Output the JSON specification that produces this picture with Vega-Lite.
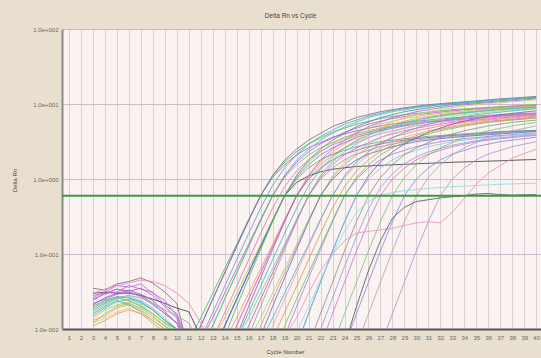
{
"$schema":"https://vega.github.io/schema/vega-lite/v6.json",
"width":479,"height":300,
"autosize":"none",
"padding":{"left":62,"top":29,"right":0,"bottom":29},
"background":"#e9dfce",
"title":{"text":"Delta Rn vs Cycle","fontSize":6.5,"fontWeight":"normal","color":"#444444","offset":7,"dx":-11},
"config":{"view":{"fill":"#fbf2f2","stroke":null},"font":"Liberation Sans"},
"layer":[
{"data":{"values":[
{"s":1,"c":3,"v":0.035},{"s":1,"c":4,"v":0.033},{"s":1,"c":5,"v":0.04},{"s":1,"c":6,"v":0.043},{"s":1,"c":7,"v":0.048},{"s":1,"c":8,"v":0.041},{"s":1,"c":9,"v":0.031},{"s":1,"c":10,"v":0.022},{"s":1,"c":11,"v":0.005},{"s":1,"c":12,"v":0.011},{"s":1,"c":13,"v":0.025},{"s":1,"c":14,"v":0.056},{"s":1,"c":15,"v":0.126},{"s":1,"c":16,"v":0.28},{"s":1,"c":17,"v":0.6},{"s":1,"c":18,"v":1.12},{"s":1,"c":19,"v":1.78},{"s":1,"c":20,"v":2.5},{"s":1,"c":21,"v":3.3},{"s":1,"c":23,"v":5.0},{"s":1,"c":25,"v":6.6},{"s":1,"c":27,"v":7.9},{"s":1,"c":29,"v":8.9},{"s":1,"c":31,"v":9.8},{"s":1,"c":33,"v":10.4},{"s":1,"c":35,"v":11.0},{"s":1,"c":37,"v":11.7},{"s":1,"c":39,"v":12.3},{"s":1,"c":40,"v":12.6},
{"s":2,"c":3,"v":0.018},{"s":2,"c":4,"v":0.022},{"s":2,"c":5,"v":0.026},{"s":2,"c":6,"v":0.024},{"s":2,"c":7,"v":0.02},{"s":2,"c":8,"v":0.016},{"s":2,"c":9,"v":0.012},{"s":2,"c":10,"v":0.01},{"s":2,"c":11,"v":0.007},{"s":2,"c":12,"v":0.014},{"s":2,"c":13,"v":0.03},{"s":2,"c":14,"v":0.064},{"s":2,"c":15,"v":0.135},{"s":2,"c":16,"v":0.29},{"s":2,"c":17,"v":0.6},{"s":2,"c":18,"v":1.1},{"s":2,"c":19,"v":1.68},{"s":2,"c":20,"v":2.3},{"s":2,"c":21,"v":2.95},{"s":2,"c":23,"v":4.2},{"s":2,"c":25,"v":5.4},{"s":2,"c":27,"v":6.4},{"s":2,"c":29,"v":7.2},{"s":2,"c":31,"v":7.8},{"s":2,"c":33,"v":8.4},{"s":2,"c":35,"v":8.8},{"s":2,"c":37,"v":9.2},{"s":2,"c":39,"v":9.6},{"s":2,"c":40,"v":9.8},
{"s":3,"c":3,"v":0.028},{"s":3,"c":4,"v":0.03},{"s":3,"c":5,"v":0.034},{"s":3,"c":6,"v":0.032},{"s":3,"c":7,"v":0.035},{"s":3,"c":8,"v":0.028},{"s":3,"c":9,"v":0.02},{"s":3,"c":10,"v":0.014},{"s":3,"c":11,"v":0.005},{"s":3,"c":12,"v":0.011},{"s":3,"c":13,"v":0.025},{"s":3,"c":14,"v":0.056},{"s":3,"c":15,"v":0.126},{"s":3,"c":16,"v":0.28},{"s":3,"c":17,"v":0.6},{"s":3,"c":18,"v":1.05},{"s":3,"c":19,"v":1.55},{"s":3,"c":20,"v":2.1},{"s":3,"c":21,"v":2.6},{"s":3,"c":23,"v":3.6},{"s":3,"c":25,"v":4.4},{"s":3,"c":27,"v":5.1},{"s":3,"c":29,"v":5.7},{"s":3,"c":31,"v":6.1},{"s":3,"c":33,"v":6.5},{"s":3,"c":35,"v":6.9},{"s":3,"c":37,"v":7.2},{"s":3,"c":39,"v":7.5},{"s":3,"c":40,"v":7.6},
{"s":4,"c":3,"v":0.015},{"s":4,"c":4,"v":0.019},{"s":4,"c":5,"v":0.023},{"s":4,"c":6,"v":0.025},{"s":4,"c":7,"v":0.022},{"s":4,"c":8,"v":0.018},{"s":4,"c":9,"v":0.013},{"s":4,"c":10,"v":0.01},{"s":4,"c":11,"v":0.006},{"s":4,"c":12,"v":0.005},{"s":4,"c":13,"v":0.011},{"s":4,"c":14,"v":0.025},{"s":4,"c":15,"v":0.056},{"s":4,"c":16,"v":0.126},{"s":4,"c":17,"v":0.28},{"s":4,"c":18,"v":0.6},{"s":4,"c":19,"v":1.12},{"s":4,"c":20,"v":1.78},{"s":4,"c":21,"v":2.5},{"s":4,"c":22,"v":3.3},{"s":4,"c":24,"v":5.0},{"s":4,"c":26,"v":6.6},{"s":4,"c":28,"v":7.9},{"s":4,"c":30,"v":8.9},{"s":4,"c":32,"v":9.8},{"s":4,"c":34,"v":10.4},{"s":4,"c":36,"v":11.0},{"s":4,"c":38,"v":11.7},{"s":4,"c":40,"v":12.3},
{"s":5,"c":3,"v":0.03},{"s":5,"c":4,"v":0.031},{"s":5,"c":5,"v":0.03},{"s":5,"c":6,"v":0.03},{"s":5,"c":7,"v":0.028},{"s":5,"c":8,"v":0.025},{"s":5,"c":9,"v":0.022},{"s":5,"c":10,"v":0.019},{"s":5,"c":11,"v":0.017},{"s":5,"c":12,"v":0.008},{"s":5,"c":13,"v":0.005},{"s":5,"c":14,"v":0.011},{"s":5,"c":15,"v":0.025},{"s":5,"c":16,"v":0.056},{"s":5,"c":17,"v":0.126},{"s":5,"c":18,"v":0.28},{"s":5,"c":19,"v":0.6},{"s":5,"c":20,"v":0.9},{"s":5,"c":21,"v":1.1},{"s":5,"c":22,"v":1.25},{"s":5,"c":23,"v":1.35},{"s":5,"c":25,"v":1.47},{"s":5,"c":27,"v":1.52},{"s":5,"c":29,"v":1.57},{"s":5,"c":31,"v":1.62},{"s":5,"c":33,"v":1.67},{"s":5,"c":35,"v":1.71},{"s":5,"c":37,"v":1.75},{"s":5,"c":39,"v":1.8},{"s":5,"c":40,"v":1.82},
{"s":6,"c":3,"v":0.024},{"s":6,"c":4,"v":0.03},{"s":6,"c":5,"v":0.031},{"s":6,"c":6,"v":0.038},{"s":6,"c":7,"v":0.034},{"s":6,"c":8,"v":0.031},{"s":6,"c":9,"v":0.021},{"s":6,"c":10,"v":0.016},{"s":6,"c":11,"v":0.006},{"s":6,"c":12,"v":0.007},{"s":6,"c":13,"v":0.014},{"s":6,"c":14,"v":0.03},{"s":6,"c":15,"v":0.064},{"s":6,"c":16,"v":0.135},{"s":6,"c":17,"v":0.29},{"s":6,"c":18,"v":0.6},{"s":6,"c":19,"v":1.1},{"s":6,"c":20,"v":1.68},{"s":6,"c":21,"v":2.3},{"s":6,"c":22,"v":2.95},{"s":6,"c":24,"v":4.2},{"s":6,"c":26,"v":5.4},{"s":6,"c":28,"v":6.4},{"s":6,"c":30,"v":7.2},{"s":6,"c":32,"v":7.8},{"s":6,"c":34,"v":8.4},{"s":6,"c":36,"v":8.8},{"s":6,"c":38,"v":9.2},{"s":6,"c":40,"v":9.6},
{"s":7,"c":3,"v":0.012},{"s":7,"c":4,"v":0.016},{"s":7,"c":5,"v":0.02},{"s":7,"c":6,"v":0.022},{"s":7,"c":7,"v":0.019},{"s":7,"c":8,"v":0.015},{"s":7,"c":9,"v":0.011},{"s":7,"c":10,"v":0.009},{"s":7,"c":11,"v":0.006},{"s":7,"c":12,"v":0.005},{"s":7,"c":13,"v":0.011},{"s":7,"c":14,"v":0.025},{"s":7,"c":15,"v":0.056},{"s":7,"c":16,"v":0.126},{"s":7,"c":17,"v":0.28},{"s":7,"c":18,"v":0.6},{"s":7,"c":19,"v":1.05},{"s":7,"c":20,"v":1.55},{"s":7,"c":21,"v":2.1},{"s":7,"c":22,"v":2.6},{"s":7,"c":24,"v":3.6},{"s":7,"c":26,"v":4.4},{"s":7,"c":28,"v":5.1},{"s":7,"c":30,"v":5.7},{"s":7,"c":32,"v":6.1},{"s":7,"c":34,"v":6.5},{"s":7,"c":36,"v":6.9},{"s":7,"c":38,"v":7.2},{"s":7,"c":40,"v":7.5},
{"s":8,"c":3,"v":0.02},{"s":8,"c":4,"v":0.024},{"s":8,"c":5,"v":0.027},{"s":8,"c":6,"v":0.026},{"s":8,"c":7,"v":0.023},{"s":8,"c":8,"v":0.018},{"s":8,"c":9,"v":0.013},{"s":8,"c":10,"v":0.01},{"s":8,"c":11,"v":0.006},{"s":8,"c":13,"v":0.005},{"s":8,"c":14,"v":0.011},{"s":8,"c":15,"v":0.025},{"s":8,"c":16,"v":0.056},{"s":8,"c":17,"v":0.126},{"s":8,"c":18,"v":0.28},{"s":8,"c":19,"v":0.6},{"s":8,"c":20,"v":1.12},{"s":8,"c":21,"v":1.78},{"s":8,"c":22,"v":2.5},{"s":8,"c":23,"v":3.3},{"s":8,"c":25,"v":5.0},{"s":8,"c":27,"v":6.6},{"s":8,"c":29,"v":7.9},{"s":8,"c":31,"v":8.9},{"s":8,"c":33,"v":9.8},{"s":8,"c":35,"v":10.4},{"s":8,"c":37,"v":11.0},{"s":8,"c":39,"v":11.7},{"s":8,"c":40,"v":12.0},
{"s":9,"c":3,"v":0.014},{"s":9,"c":4,"v":0.018},{"s":9,"c":5,"v":0.021},{"s":9,"c":6,"v":0.023},{"s":9,"c":7,"v":0.021},{"s":9,"c":8,"v":0.016},{"s":9,"c":9,"v":0.012},{"s":9,"c":10,"v":0.009},{"s":9,"c":11,"v":0.006},{"s":9,"c":13,"v":0.007},{"s":9,"c":14,"v":0.014},{"s":9,"c":15,"v":0.03},{"s":9,"c":16,"v":0.064},{"s":9,"c":17,"v":0.135},{"s":9,"c":18,"v":0.29},{"s":9,"c":19,"v":0.6},{"s":9,"c":20,"v":1.1},{"s":9,"c":21,"v":1.68},{"s":9,"c":22,"v":2.3},{"s":9,"c":23,"v":2.95},{"s":9,"c":25,"v":4.2},{"s":9,"c":27,"v":5.4},{"s":9,"c":29,"v":6.4},{"s":9,"c":31,"v":7.2},{"s":9,"c":33,"v":7.8},{"s":9,"c":35,"v":8.4},{"s":9,"c":37,"v":8.8},{"s":9,"c":39,"v":9.2},{"s":9,"c":40,"v":9.4},
{"s":10,"c":3,"v":0.022},{"s":10,"c":4,"v":0.025},{"s":10,"c":5,"v":0.029},{"s":10,"c":6,"v":0.031},{"s":10,"c":7,"v":0.028},{"s":10,"c":8,"v":0.022},{"s":10,"c":9,"v":0.016},{"s":10,"c":10,"v":0.012},{"s":10,"c":11,"v":0.006},{"s":10,"c":13,"v":0.005},{"s":10,"c":14,"v":0.011},{"s":10,"c":15,"v":0.025},{"s":10,"c":16,"v":0.056},{"s":10,"c":17,"v":0.126},{"s":10,"c":18,"v":0.28},{"s":10,"c":19,"v":0.6},{"s":10,"c":20,"v":1.05},{"s":10,"c":21,"v":1.55},{"s":10,"c":22,"v":2.1},{"s":10,"c":23,"v":2.6},{"s":10,"c":25,"v":3.6},{"s":10,"c":27,"v":4.4},{"s":10,"c":29,"v":5.1},{"s":10,"c":31,"v":5.7},{"s":10,"c":33,"v":6.1},{"s":10,"c":35,"v":6.5},{"s":10,"c":37,"v":6.9},{"s":10,"c":39,"v":7.2},{"s":10,"c":40,"v":7.3},
{"s":11,"c":3,"v":0.026},{"s":11,"c":4,"v":0.031},{"s":11,"c":5,"v":0.038},{"s":11,"c":6,"v":0.036},{"s":11,"c":7,"v":0.04},{"s":11,"c":8,"v":0.03},{"s":11,"c":9,"v":0.024},{"s":11,"c":10,"v":0.015},{"s":11,"c":11,"v":0.006},{"s":11,"c":14,"v":0.005},{"s":11,"c":15,"v":0.011},{"s":11,"c":16,"v":0.025},{"s":11,"c":17,"v":0.056},{"s":11,"c":18,"v":0.126},{"s":11,"c":19,"v":0.28},{"s":11,"c":20,"v":0.6},{"s":11,"c":21,"v":1.12},{"s":11,"c":22,"v":1.78},{"s":11,"c":23,"v":2.5},{"s":11,"c":24,"v":3.3},{"s":11,"c":26,"v":5.0},{"s":11,"c":28,"v":6.6},{"s":11,"c":30,"v":7.9},{"s":11,"c":32,"v":8.9},{"s":11,"c":34,"v":9.8},{"s":11,"c":36,"v":10.4},{"s":11,"c":38,"v":11.0},{"s":11,"c":40,"v":11.7},
{"s":12,"c":3,"v":0.013},{"s":12,"c":4,"v":0.015},{"s":12,"c":5,"v":0.019},{"s":12,"c":6,"v":0.021},{"s":12,"c":7,"v":0.018},{"s":12,"c":8,"v":0.014},{"s":12,"c":9,"v":0.011},{"s":12,"c":10,"v":0.008},{"s":12,"c":11,"v":0.006},{"s":12,"c":14,"v":0.007},{"s":12,"c":15,"v":0.014},{"s":12,"c":16,"v":0.03},{"s":12,"c":17,"v":0.064},{"s":12,"c":18,"v":0.135},{"s":12,"c":19,"v":0.29},{"s":12,"c":20,"v":0.6},{"s":12,"c":21,"v":1.1},{"s":12,"c":22,"v":1.68},{"s":12,"c":23,"v":2.3},{"s":12,"c":24,"v":2.95},{"s":12,"c":26,"v":4.2},{"s":12,"c":28,"v":5.4},{"s":12,"c":30,"v":6.4},{"s":12,"c":32,"v":7.2},{"s":12,"c":34,"v":7.8},{"s":12,"c":36,"v":8.4},{"s":12,"c":38,"v":8.8},{"s":12,"c":40,"v":9.2},
{"s":13,"c":3,"v":0.03},{"s":13,"c":4,"v":0.034},{"s":13,"c":5,"v":0.038},{"s":13,"c":6,"v":0.041},{"s":13,"c":7,"v":0.045},{"s":13,"c":8,"v":0.043},{"s":13,"c":9,"v":0.038},{"s":13,"c":10,"v":0.03},{"s":13,"c":11,"v":0.022},{"s":13,"c":12,"v":0.012},{"s":13,"c":13,"v":0.006},{"s":13,"c":14,"v":0.005},{"s":13,"c":15,"v":0.011},{"s":13,"c":16,"v":0.025},{"s":13,"c":17,"v":0.056},{"s":13,"c":18,"v":0.126},{"s":13,"c":19,"v":0.28},{"s":13,"c":20,"v":0.6},{"s":13,"c":21,"v":1.05},{"s":13,"c":22,"v":1.55},{"s":13,"c":23,"v":2.1},{"s":13,"c":24,"v":2.6},{"s":13,"c":26,"v":3.6},{"s":13,"c":28,"v":4.4},{"s":13,"c":30,"v":5.1},{"s":13,"c":32,"v":5.7},{"s":13,"c":34,"v":6.1},{"s":13,"c":36,"v":6.5},{"s":13,"c":38,"v":6.9},{"s":13,"c":40,"v":7.2},
{"s":14,"c":3,"v":0.016},{"s":14,"c":4,"v":0.02},{"s":14,"c":5,"v":0.024},{"s":14,"c":6,"v":0.021},{"s":14,"c":7,"v":0.017},{"s":14,"c":8,"v":0.013},{"s":14,"c":9,"v":0.01},{"s":14,"c":10,"v":0.008},{"s":14,"c":11,"v":0.006},{"s":14,"c":13,"v":0.003},{"s":14,"c":14,"v":0.008},{"s":14,"c":15,"v":0.02},{"s":14,"c":16,"v":0.048},{"s":14,"c":17,"v":0.115},{"s":14,"c":18,"v":0.27},{"s":14,"c":19,"v":0.6},{"s":14,"c":20,"v":1.0},{"s":14,"c":21,"v":1.4},{"s":14,"c":22,"v":1.8},{"s":14,"c":23,"v":2.15},{"s":14,"c":25,"v":2.7},{"s":14,"c":27,"v":3.15},{"s":14,"c":29,"v":3.45},{"s":14,"c":31,"v":3.7},{"s":14,"c":33,"v":3.9},{"s":14,"c":35,"v":4.1},{"s":14,"c":37,"v":4.3},{"s":14,"c":39,"v":4.4},{"s":14,"c":40,"v":4.45},
{"s":15,"c":3,"v":0.021},{"s":15,"c":4,"v":0.026},{"s":15,"c":5,"v":0.03},{"s":15,"c":6,"v":0.033},{"s":15,"c":7,"v":0.029},{"s":15,"c":8,"v":0.024},{"s":15,"c":9,"v":0.017},{"s":15,"c":10,"v":0.012},{"s":15,"c":11,"v":0.006},{"s":15,"c":14,"v":0.003},{"s":15,"c":15,"v":0.008},{"s":15,"c":16,"v":0.02},{"s":15,"c":17,"v":0.048},{"s":15,"c":18,"v":0.115},{"s":15,"c":19,"v":0.27},{"s":15,"c":20,"v":0.6},{"s":15,"c":21,"v":1.0},{"s":15,"c":22,"v":1.4},{"s":15,"c":23,"v":1.8},{"s":15,"c":24,"v":2.15},{"s":15,"c":26,"v":2.7},{"s":15,"c":28,"v":3.15},{"s":15,"c":30,"v":3.45},{"s":15,"c":32,"v":3.7},{"s":15,"c":34,"v":3.9},{"s":15,"c":36,"v":4.1},{"s":15,"c":38,"v":4.3},{"s":15,"c":40,"v":4.4},
{"s":16,"c":3,"v":0.012},{"s":16,"c":4,"v":0.014},{"s":16,"c":5,"v":0.017},{"s":16,"c":6,"v":0.019},{"s":16,"c":7,"v":0.016},{"s":16,"c":8,"v":0.013},{"s":16,"c":9,"v":0.01},{"s":16,"c":10,"v":0.008},{"s":16,"c":11,"v":0.006},{"s":16,"c":15,"v":0.005},{"s":16,"c":16,"v":0.011},{"s":16,"c":17,"v":0.025},{"s":16,"c":18,"v":0.056},{"s":16,"c":19,"v":0.126},{"s":16,"c":20,"v":0.28},{"s":16,"c":21,"v":0.6},{"s":16,"c":22,"v":1.12},{"s":16,"c":23,"v":1.78},{"s":16,"c":24,"v":2.5},{"s":16,"c":25,"v":3.3},{"s":16,"c":27,"v":5.0},{"s":16,"c":29,"v":6.6},{"s":16,"c":31,"v":7.9},{"s":16,"c":33,"v":8.9},{"s":16,"c":35,"v":9.8},{"s":16,"c":37,"v":10.4},{"s":16,"c":39,"v":11.0},{"s":16,"c":40,"v":11.4},
{"s":17,"c":3,"v":0.017},{"s":17,"c":4,"v":0.021},{"s":17,"c":5,"v":0.025},{"s":17,"c":6,"v":0.027},{"s":17,"c":7,"v":0.024},{"s":17,"c":8,"v":0.019},{"s":17,"c":9,"v":0.014},{"s":17,"c":10,"v":0.01},{"s":17,"c":11,"v":0.006},{"s":17,"c":15,"v":0.007},{"s":17,"c":16,"v":0.014},{"s":17,"c":17,"v":0.03},{"s":17,"c":18,"v":0.064},{"s":17,"c":19,"v":0.135},{"s":17,"c":20,"v":0.29},{"s":17,"c":21,"v":0.6},{"s":17,"c":22,"v":1.1},{"s":17,"c":23,"v":1.68},{"s":17,"c":24,"v":2.3},{"s":17,"c":25,"v":2.95},{"s":17,"c":27,"v":4.2},{"s":17,"c":29,"v":5.4},{"s":17,"c":31,"v":6.4},{"s":17,"c":33,"v":7.2},{"s":17,"c":35,"v":7.8},{"s":17,"c":37,"v":8.4},{"s":17,"c":39,"v":8.8},{"s":17,"c":40,"v":9.0},
{"s":18,"c":3,"v":0.025},{"s":18,"c":4,"v":0.029},{"s":18,"c":5,"v":0.034},{"s":18,"c":6,"v":0.031},{"s":18,"c":7,"v":0.027},{"s":18,"c":8,"v":0.021},{"s":18,"c":9,"v":0.016},{"s":18,"c":10,"v":0.012},{"s":18,"c":11,"v":0.006},{"s":18,"c":15,"v":0.005},{"s":18,"c":16,"v":0.011},{"s":18,"c":17,"v":0.025},{"s":18,"c":18,"v":0.056},{"s":18,"c":19,"v":0.126},{"s":18,"c":20,"v":0.28},{"s":18,"c":21,"v":0.6},{"s":18,"c":22,"v":1.05},{"s":18,"c":23,"v":1.55},{"s":18,"c":24,"v":2.1},{"s":18,"c":25,"v":2.6},{"s":18,"c":27,"v":3.6},{"s":18,"c":29,"v":4.4},{"s":18,"c":31,"v":5.1},{"s":18,"c":33,"v":5.7},{"s":18,"c":35,"v":6.1},{"s":18,"c":37,"v":6.5},{"s":18,"c":39,"v":6.9},{"s":18,"c":40,"v":7.0},
{"s":19,"c":3,"v":0.019},{"s":19,"c":4,"v":0.023},{"s":19,"c":5,"v":0.026},{"s":19,"c":6,"v":0.028},{"s":19,"c":7,"v":0.026},{"s":19,"c":8,"v":0.022},{"s":19,"c":9,"v":0.018},{"s":19,"c":10,"v":0.015},{"s":19,"c":11,"v":0.012},{"s":19,"c":12,"v":0.006},{"s":19,"c":15,"v":0.003},{"s":19,"c":16,"v":0.008},{"s":19,"c":17,"v":0.02},{"s":19,"c":18,"v":0.048},{"s":19,"c":19,"v":0.115},{"s":19,"c":20,"v":0.27},{"s":19,"c":21,"v":0.6},{"s":19,"c":22,"v":1.0},{"s":19,"c":23,"v":1.4},{"s":19,"c":24,"v":1.8},{"s":19,"c":25,"v":2.15},{"s":19,"c":27,"v":2.7},{"s":19,"c":29,"v":3.15},{"s":19,"c":31,"v":3.45},{"s":19,"c":33,"v":3.7},{"s":19,"c":35,"v":3.9},{"s":19,"c":37,"v":4.1},{"s":19,"c":39,"v":4.3},{"s":19,"c":40,"v":4.35},
{"s":20,"c":3,"v":0.011},{"s":20,"c":4,"v":0.013},{"s":20,"c":5,"v":0.016},{"s":20,"c":6,"v":0.018},{"s":20,"c":7,"v":0.016},{"s":20,"c":8,"v":0.012},{"s":20,"c":9,"v":0.009},{"s":20,"c":10,"v":0.007},{"s":20,"c":16,"v":0.005},{"s":20,"c":17,"v":0.011},{"s":20,"c":18,"v":0.025},{"s":20,"c":19,"v":0.056},{"s":20,"c":20,"v":0.126},{"s":20,"c":21,"v":0.28},{"s":20,"c":22,"v":0.6},{"s":20,"c":23,"v":1.05},{"s":20,"c":24,"v":1.55},{"s":20,"c":25,"v":2.1},{"s":20,"c":26,"v":2.6},{"s":20,"c":28,"v":3.6},{"s":20,"c":30,"v":4.4},{"s":20,"c":32,"v":5.1},{"s":20,"c":34,"v":5.7},{"s":20,"c":36,"v":6.1},{"s":20,"c":38,"v":6.5},{"s":20,"c":40,"v":6.9},
{"s":21,"c":16,"v":0.007},{"s":21,"c":17,"v":0.014},{"s":21,"c":18,"v":0.03},{"s":21,"c":19,"v":0.064},{"s":21,"c":20,"v":0.135},{"s":21,"c":21,"v":0.29},{"s":21,"c":22,"v":0.6},{"s":21,"c":23,"v":1.1},{"s":21,"c":24,"v":1.68},{"s":21,"c":25,"v":2.3},{"s":21,"c":26,"v":2.95},{"s":21,"c":28,"v":4.2},{"s":21,"c":30,"v":5.4},{"s":21,"c":32,"v":6.4},{"s":21,"c":34,"v":7.2},{"s":21,"c":36,"v":7.8},{"s":21,"c":38,"v":8.4},{"s":21,"c":40,"v":8.8},
{"s":22,"c":16,"v":0.003},{"s":22,"c":17,"v":0.008},{"s":22,"c":18,"v":0.02},{"s":22,"c":19,"v":0.048},{"s":22,"c":20,"v":0.115},{"s":22,"c":21,"v":0.27},{"s":22,"c":22,"v":0.6},{"s":22,"c":23,"v":1.0},{"s":22,"c":24,"v":1.4},{"s":22,"c":25,"v":1.8},{"s":22,"c":26,"v":2.15},{"s":22,"c":28,"v":2.7},{"s":22,"c":30,"v":3.15},{"s":22,"c":32,"v":3.45},{"s":22,"c":34,"v":3.7},{"s":22,"c":36,"v":3.9},{"s":22,"c":38,"v":4.1},{"s":22,"c":40,"v":4.3},
{"s":23,"c":17,"v":0.005},{"s":23,"c":18,"v":0.011},{"s":23,"c":19,"v":0.025},{"s":23,"c":20,"v":0.056},{"s":23,"c":21,"v":0.126},{"s":23,"c":22,"v":0.28},{"s":23,"c":23,"v":0.6},{"s":23,"c":24,"v":1.05},{"s":23,"c":25,"v":1.55},{"s":23,"c":26,"v":2.1},{"s":23,"c":27,"v":2.6},{"s":23,"c":29,"v":3.6},{"s":23,"c":31,"v":4.4},{"s":23,"c":33,"v":5.1},{"s":23,"c":35,"v":5.7},{"s":23,"c":37,"v":6.1},{"s":23,"c":39,"v":6.5},{"s":23,"c":40,"v":6.7},
{"s":24,"c":17,"v":0.007},{"s":24,"c":18,"v":0.014},{"s":24,"c":19,"v":0.03},{"s":24,"c":20,"v":0.064},{"s":24,"c":21,"v":0.135},{"s":24,"c":22,"v":0.29},{"s":24,"c":23,"v":0.6},{"s":24,"c":24,"v":1.1},{"s":24,"c":25,"v":1.68},{"s":24,"c":26,"v":2.3},{"s":24,"c":27,"v":2.95},{"s":24,"c":29,"v":4.2},{"s":24,"c":31,"v":5.4},{"s":24,"c":33,"v":6.4},{"s":24,"c":35,"v":7.2},{"s":24,"c":37,"v":7.8},{"s":24,"c":39,"v":8.4},{"s":24,"c":40,"v":8.6},
{"s":25,"c":18,"v":0.003},{"s":25,"c":19,"v":0.008},{"s":25,"c":20,"v":0.02},{"s":25,"c":21,"v":0.048},{"s":25,"c":22,"v":0.115},{"s":25,"c":23,"v":0.27},{"s":25,"c":24,"v":0.6},{"s":25,"c":25,"v":1.0},{"s":25,"c":26,"v":1.4},{"s":25,"c":27,"v":1.8},{"s":25,"c":28,"v":2.15},{"s":25,"c":30,"v":2.7},{"s":25,"c":32,"v":3.15},{"s":25,"c":34,"v":3.45},{"s":25,"c":36,"v":3.7},{"s":25,"c":38,"v":3.9},{"s":25,"c":40,"v":4.1},
{"s":26,"c":18,"v":0.005},{"s":26,"c":19,"v":0.011},{"s":26,"c":20,"v":0.025},{"s":26,"c":21,"v":0.056},{"s":26,"c":22,"v":0.126},{"s":26,"c":23,"v":0.28},{"s":26,"c":24,"v":0.6},{"s":26,"c":25,"v":1.05},{"s":26,"c":26,"v":1.55},{"s":26,"c":27,"v":2.1},{"s":26,"c":28,"v":2.6},{"s":26,"c":30,"v":3.6},{"s":26,"c":32,"v":4.4},{"s":26,"c":34,"v":5.1},{"s":26,"c":36,"v":5.7},{"s":26,"c":38,"v":6.1},{"s":26,"c":40,"v":6.5},
{"s":27,"c":20,"v":0.006},{"s":27,"c":21,"v":0.016},{"s":27,"c":22,"v":0.042},{"s":27,"c":23,"v":0.11},{"s":27,"c":24,"v":0.27},{"s":27,"c":25,"v":0.6},{"s":27,"c":26,"v":1.1},{"s":27,"c":27,"v":1.68},{"s":27,"c":28,"v":2.3},{"s":27,"c":29,"v":2.95},{"s":27,"c":31,"v":4.2},{"s":27,"c":33,"v":5.4},{"s":27,"c":35,"v":6.4},{"s":27,"c":37,"v":7.2},{"s":27,"c":39,"v":7.8},{"s":27,"c":40,"v":8.1},
{"s":28,"c":20,"v":0.006},{"s":28,"c":21,"v":0.016},{"s":28,"c":22,"v":0.042},{"s":28,"c":23,"v":0.11},{"s":28,"c":24,"v":0.27},{"s":28,"c":25,"v":0.6},{"s":28,"c":26,"v":1.0},{"s":28,"c":27,"v":1.4},{"s":28,"c":28,"v":1.8},{"s":28,"c":29,"v":2.15},{"s":28,"c":31,"v":2.7},{"s":28,"c":33,"v":3.15},{"s":28,"c":35,"v":3.45},{"s":28,"c":37,"v":3.7},{"s":28,"c":39,"v":3.9},{"s":28,"c":40,"v":4.0},
{"s":29,"c":21,"v":0.006},{"s":29,"c":22,"v":0.016},{"s":29,"c":23,"v":0.042},{"s":29,"c":24,"v":0.11},{"s":29,"c":25,"v":0.27},{"s":29,"c":26,"v":0.6},{"s":29,"c":27,"v":1.05},{"s":29,"c":28,"v":1.55},{"s":29,"c":29,"v":2.1},{"s":29,"c":30,"v":2.6},{"s":29,"c":32,"v":3.6},{"s":29,"c":34,"v":4.4},{"s":29,"c":36,"v":5.1},{"s":29,"c":38,"v":5.7},{"s":29,"c":40,"v":6.1},
{"s":30,"c":22,"v":0.006},{"s":30,"c":23,"v":0.016},{"s":30,"c":24,"v":0.042},{"s":30,"c":25,"v":0.11},{"s":30,"c":26,"v":0.27},{"s":30,"c":27,"v":0.6},{"s":30,"c":28,"v":1.0},{"s":30,"c":29,"v":1.4},{"s":30,"c":30,"v":1.8},{"s":30,"c":31,"v":2.15},{"s":30,"c":33,"v":2.7},{"s":30,"c":35,"v":3.15},{"s":30,"c":37,"v":3.45},{"s":30,"c":39,"v":3.7},{"s":30,"c":40,"v":3.8},
{"s":31,"c":23,"v":0.006},{"s":31,"c":24,"v":0.016},{"s":31,"c":25,"v":0.042},{"s":31,"c":26,"v":0.11},{"s":31,"c":27,"v":0.27},{"s":31,"c":28,"v":0.6},{"s":31,"c":29,"v":1.05},{"s":31,"c":30,"v":1.55},{"s":31,"c":31,"v":2.1},{"s":31,"c":32,"v":2.6},{"s":31,"c":34,"v":3.6},{"s":31,"c":36,"v":4.4},{"s":31,"c":38,"v":5.1},{"s":31,"c":40,"v":5.7},
{"s":32,"c":24,"v":0.006},{"s":32,"c":25,"v":0.016},{"s":32,"c":26,"v":0.042},{"s":32,"c":27,"v":0.11},{"s":32,"c":28,"v":0.27},{"s":32,"c":29,"v":0.6},{"s":32,"c":30,"v":1.0},{"s":32,"c":31,"v":1.4},{"s":32,"c":32,"v":1.8},{"s":32,"c":33,"v":2.15},{"s":32,"c":35,"v":2.7},{"s":32,"c":37,"v":3.15},{"s":32,"c":39,"v":3.45},{"s":32,"c":40,"v":3.6},
{"s":33,"c":25,"v":0.006},{"s":33,"c":26,"v":0.016},{"s":33,"c":27,"v":0.042},{"s":33,"c":28,"v":0.11},{"s":33,"c":29,"v":0.27},{"s":33,"c":30,"v":0.6},{"s":33,"c":31,"v":1.05},{"s":33,"c":32,"v":1.55},{"s":33,"c":33,"v":2.1},{"s":33,"c":34,"v":2.6},{"s":33,"c":36,"v":3.6},{"s":33,"c":38,"v":4.4},{"s":33,"c":40,"v":5.1},
{"s":34,"c":27,"v":0.006},{"s":34,"c":28,"v":0.016},{"s":34,"c":29,"v":0.042},{"s":34,"c":30,"v":0.11},{"s":34,"c":31,"v":0.27},{"s":34,"c":32,"v":0.6},{"s":34,"c":33,"v":1.0},{"s":34,"c":34,"v":1.4},{"s":34,"c":35,"v":1.8},{"s":34,"c":36,"v":2.15},{"s":34,"c":38,"v":2.7},{"s":34,"c":40,"v":3.15},
{"s":35,"c":19,"v":0.004},{"s":35,"c":20,"v":0.009},{"s":35,"c":21,"v":0.02},{"s":35,"c":22,"v":0.045},{"s":35,"c":23,"v":0.1},{"s":35,"c":24,"v":0.2},{"s":35,"c":25,"v":0.36},{"s":35,"c":26,"v":0.5},{"s":35,"c":27,"v":0.6},{"s":35,"c":28,"v":0.66},{"s":35,"c":29,"v":0.7},{"s":35,"c":31,"v":0.75},{"s":35,"c":33,"v":0.79},{"s":35,"c":35,"v":0.82},{"s":35,"c":37,"v":0.85},{"s":35,"c":39,"v":0.87},{"s":35,"c":40,"v":0.88},
{"s":36,"c":19,"v":0.008},{"s":36,"c":20,"v":0.014},{"s":36,"c":21,"v":0.03},{"s":36,"c":22,"v":0.06},{"s":36,"c":23,"v":0.1},{"s":36,"c":24,"v":0.15},{"s":36,"c":25,"v":0.19},{"s":36,"c":26,"v":0.2},{"s":36,"c":27,"v":0.21},{"s":36,"c":28,"v":0.22},{"s":36,"c":29,"v":0.24},{"s":36,"c":30,"v":0.26},{"s":36,"c":31,"v":0.27},{"s":36,"c":32,"v":0.26},{"s":36,"c":33,"v":0.36},{"s":36,"c":34,"v":0.55},{"s":36,"c":35,"v":0.85},{"s":36,"c":36,"v":1.2},{"s":36,"c":38,"v":1.9},{"s":36,"c":40,"v":2.5},
{"s":37,"c":24,"v":0.006},{"s":37,"c":25,"v":0.02},{"s":37,"c":26,"v":0.06},{"s":37,"c":27,"v":0.15},{"s":37,"c":28,"v":0.3},{"s":37,"c":29,"v":0.42},{"s":37,"c":30,"v":0.5},{"s":37,"c":32,"v":0.56},{"s":37,"c":34,"v":0.6},{"s":37,"c":35,"v":0.63},{"s":37,"c":36,"v":0.64},{"s":37,"c":37,"v":0.62},{"s":37,"c":38,"v":0.61},{"s":37,"c":40,"v":0.62},
{"s":38,"c":12,"v":0.0074},{"s":38,"c":13,"v":0.0166},{"s":38,"c":14,"v":0.037},{"s":38,"c":15,"v":0.084},{"s":38,"c":16,"v":0.188},{"s":38,"c":17,"v":0.41},{"s":38,"c":18,"v":0.82},{"s":38,"c":19,"v":1.41},{"s":38,"c":20,"v":2.1},{"s":38,"c":21,"v":2.9},{"s":38,"c":22,"v":3.7},{"s":38,"c":24,"v":5.4},{"s":38,"c":26,"v":6.9},{"s":38,"c":28,"v":8.2},{"s":38,"c":30,"v":9.1},{"s":38,"c":32,"v":9.9},{"s":38,"c":34,"v":10.5},{"s":38,"c":36,"v":11.2},{"s":38,"c":38,"v":11.8},{"s":38,"c":40,"v":12.4},
{"s":39,"c":13,"v":0.0074},{"s":39,"c":14,"v":0.0166},{"s":39,"c":15,"v":0.037},{"s":39,"c":16,"v":0.084},{"s":39,"c":17,"v":0.188},{"s":39,"c":18,"v":0.41},{"s":39,"c":19,"v":0.79},{"s":39,"c":20,"v":1.28},{"s":39,"c":21,"v":1.8},{"s":39,"c":22,"v":2.34},{"s":39,"c":23,"v":2.85},{"s":39,"c":25,"v":3.8},{"s":39,"c":27,"v":4.6},{"s":39,"c":29,"v":5.25},{"s":39,"c":31,"v":5.8},{"s":39,"c":33,"v":6.2},{"s":39,"c":35,"v":6.6},{"s":39,"c":37,"v":6.95},{"s":39,"c":39,"v":7.25},{"s":39,"c":40,"v":7.4},
{"s":40,"c":15,"v":0.0074},{"s":40,"c":16,"v":0.0166},{"s":40,"c":17,"v":0.037},{"s":40,"c":18,"v":0.084},{"s":40,"c":19,"v":0.188},{"s":40,"c":20,"v":0.41},{"s":40,"c":21,"v":0.81},{"s":40,"c":22,"v":1.36},{"s":40,"c":23,"v":1.97},{"s":40,"c":24,"v":2.6},{"s":40,"c":25,"v":3.25},{"s":40,"c":27,"v":4.5},{"s":40,"c":29,"v":5.65},{"s":40,"c":31,"v":6.6},{"s":40,"c":33,"v":7.35},{"s":40,"c":35,"v":7.95},{"s":40,"c":37,"v":8.5},{"s":40,"c":39,"v":8.9},{"s":40,"c":40,"v":9.1},
{"s":41,"c":18,"v":0.0074},{"s":41,"c":19,"v":0.0166},{"s":41,"c":20,"v":0.037},{"s":41,"c":21,"v":0.084},{"s":41,"c":22,"v":0.188},{"s":41,"c":23,"v":0.41},{"s":41,"c":24,"v":0.79},{"s":41,"c":25,"v":1.28},{"s":41,"c":26,"v":1.8},{"s":41,"c":27,"v":2.34},{"s":41,"c":28,"v":2.85},{"s":41,"c":30,"v":3.8},{"s":41,"c":32,"v":4.6},{"s":41,"c":34,"v":5.25},{"s":41,"c":36,"v":5.8},{"s":41,"c":38,"v":6.2},{"s":41,"c":40,"v":6.6},
{"s":42,"c":21,"v":0.004},{"s":42,"c":22,"v":0.0098},{"s":42,"c":23,"v":0.026},{"s":42,"c":24,"v":0.068},{"s":42,"c":25,"v":0.17},{"s":42,"c":26,"v":0.4},{"s":42,"c":27,"v":0.77},{"s":42,"c":28,"v":1.18},{"s":42,"c":29,"v":1.6},{"s":42,"c":30,"v":1.97},{"s":42,"c":31,"v":2.3},{"s":42,"c":33,"v":2.83},{"s":42,"c":35,"v":3.23},{"s":42,"c":37,"v":3.53},{"s":42,"c":39,"v":3.8},{"s":42,"c":40,"v":3.85}
]},
"mark":{"type":"line","strokeWidth":1,"opacity":0.8,"clip":true},
"encoding":{
"x":{"field":"c","type":"quantitative","scale":{"domain":[0.42,40.4],"nice":false,"zero":false},
"axis":{"values":[1,2,3,4,5,6,7,8,9,10,11,12,13,14,15,16,17,18,19,20,21,22,23,24,25,26,27,28,29,30,31,32,33,34,35,36,37,38,39,40],"title":"Cycle Number","grid":true,"gridColor":"#dccfd2","gridWidth":1,"ticks":false,"tickSize":0,"labelPadding":5,"labelFontSize":6,"labelColor":"#666666","labelFlush":false,"labelOverlap":false,"titleFontSize":6,"titleFontWeight":"normal","titleColor":"#444444","titleX":223,"titlePadding":8,"domainColor":"#555555","domainWidth":2}},
"y":{"field":"v","type":"quantitative","scale":{"type":"log","domain":[0.01,100],"nice":false},
"axis":{"values":[0.01,0.1,1,10,100],"labelExpr":"datum.value >= 99 ? '1.0e+002' : datum.value >= 9 ? '1.0e+001' : datum.value >= 0.9 ? '1.0e+000' : datum.value >= 0.09 ? '1.0e-001' : '1.0e-002'","title":"Delta Rn","grid":true,"gridColor":"#cbbccb","ticks":false,"tickSize":0,"labelPadding":4,"labelFontSize":6,"labelColor":"#666666","titleFontSize":6,"titleFontWeight":"normal","titleColor":"#444444","titleX":-45,"titleY":151,"domainColor":"#8a8a8a","domainWidth":2}},
"color":{"field":"s","type":"nominal","legend":null,"scale":{"domain":[1,2,3,4,5,6,7,8,9,10,11,12,13,14,15,16,17,18,19,20,21,22,23,24,25,26,27,28,29,30,31,32,33,34,35,36,37,38,39,40,41,42],"range":["#6e6e6e","#3dbb5a","#9a5fd0","#40c0d0","#3a3a3a","#d04ed0","#5ccc5c","#2f9a9a","#b8c840","#6a78e0","#a86ae0","#f0a050","#f080c0","#48b070","#8a58c0","#d8d060","#60d0d0","#e060e0","#9a9a9a","#f08a60","#90e090","#5868d0","#ff90c0","#48b0b0","#a080d8","#60c060","#7858b0","#70d0e0","#8c8c8c","#d070d0","#70c870","#7a8ae0","#a8a8a8","#b090d0","#80e0e0","#f088c8","#505050","#50a0c0","#e070b0","#40b8a0","#c8a040","#909cd8"]}}
}},
{"data":{"values":[{"v":0.6}]},
"mark":{"type":"rule","color":"#3a9a40","strokeWidth":2},
"encoding":{"y":{"field":"v","type":"quantitative","title":"Delta Rn"}}}
]
}
